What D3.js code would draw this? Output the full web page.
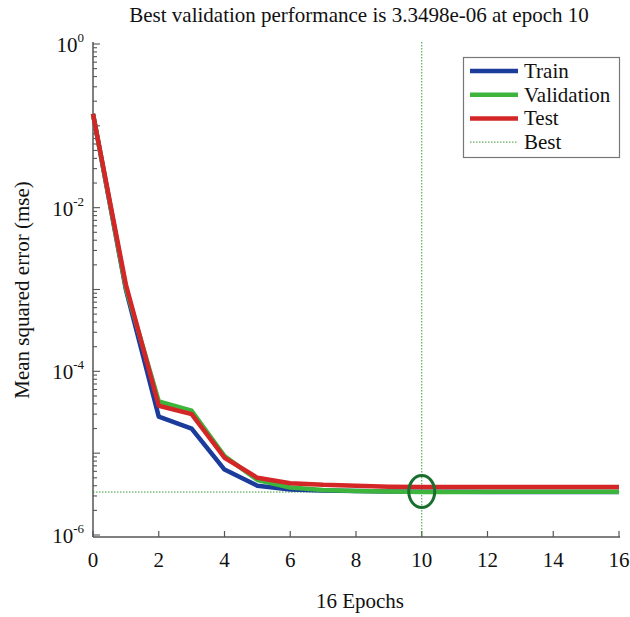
<!DOCTYPE html>
<html><head><meta charset="utf-8">
<script src="https://cdn.jsdelivr.net/npm/d3@7"></script>
<style>body{margin:0;background:#fff}text{font-family:"Liberation Serif","Times New Roman",serif}</style>
</head><body>
<svg id="c" width="630" height="617"></svg>
<script>
const epochs = d3.range(0, 17);
const train = [0.14, 1.0e-3, 2.8e-5, 2.0e-5, 6.3e-6, 4.0e-6, 3.6e-6, 3.5e-6, 3.45e-6, 3.4e-6, 3.38e-6, 3.37e-6, 3.36e-6, 3.36e-6, 3.35e-6, 3.35e-6, 3.35e-6];
const validation = [0.14, 1.05e-3, 4.3e-5, 3.3e-5, 9.2e-6, 4.7e-6, 3.8e-6, 3.55e-6, 3.45e-6, 3.4e-6, 3.3498e-6, 3.36e-6, 3.37e-6, 3.37e-6, 3.38e-6, 3.38e-6, 3.38e-6];
const test = [0.14, 1.15e-3, 3.8e-5, 3.0e-5, 8.8e-6, 5.0e-6, 4.3e-6, 4.1e-6, 4.0e-6, 3.9e-6, 3.85e-6, 3.85e-6, 3.85e-6, 3.85e-6, 3.85e-6, 3.85e-6, 3.85e-6];
const bestEpoch = 10, bestValue = 3.3498e-6;
const xTicks = [0, 2, 4, 6, 8, 10, 12, 14, 16];
const yTickExps = [0, -2, -4, -6];
const seriesNames = ["Train", "Validation", "Test"];
const seriesColors = ["#1c3c9c", "#3db53d", "#d42626"];

const svg = d3.select("#c");
const x = d3.scaleLinear().domain([0, 16]).range([93, 619]);
const y = d3.scaleLog().domain([1e-6, 1]).range([535, 44]);

// axes
const bottomY = 537;
svg.append("line").attr("x1", 93).attr("x2", 620).attr("y1", bottomY).attr("y2", bottomY).attr("stroke", "#555").attr("stroke-width", 1.5);
svg.append("line").attr("x1", 93).attr("x2", 93).attr("y1", 42).attr("y2", bottomY).attr("stroke", "#555").attr("stroke-width", 1.5);
xTicks.forEach(t => {
  svg.append("line").attr("x1", x(t)).attr("x2", x(t)).attr("y1", bottomY).attr("y2", bottomY - 6).attr("stroke", "#555").attr("stroke-width", 1.2);
  svg.append("text").attr("x", x(t)).attr("y", 567).attr("text-anchor", "middle").attr("font-size", 21).attr("fill", "#111").text(t);
});
// y ticks: major and minor
for (let e = -6; e < 0; e++) {
  for (let m = 1; m < 10; m++) {
    const v = m * Math.pow(10, e);
    const major = (m === 1);
    svg.append("line").attr("x1", 93).attr("x2", 93 + (major ? 7 : 4)).attr("y1", y(v)).attr("y2", y(v)).attr("stroke", "#555").attr("stroke-width", 1.1);
  }
}
svg.append("line").attr("x1", 93).attr("x2", 100).attr("y1", y(1)).attr("y2", y(1)).attr("stroke", "#555").attr("stroke-width", 1.1);
yTickExps.forEach(e => {
  const t = svg.append("text").attr("x", 84).attr("y", y(Math.pow(10, e)) + 8).attr("text-anchor", "end").attr("font-size", 21).attr("fill", "#111");
  t.append("tspan").text("10");
  t.append("tspan").attr("dy", -10).attr("font-size", 13).text(e);
});

// best lines
svg.append("line").attr("x1", x(bestEpoch)).attr("x2", x(bestEpoch)).attr("y1", 42).attr("y2", bottomY).attr("stroke", "#3a9a3a").attr("stroke-width", 1).attr("stroke-dasharray", "1.5,1.5");
svg.append("line").attr("x1", 93).attr("x2", 620).attr("y1", y(bestValue)).attr("y2", y(bestValue)).attr("stroke", "#3a9a3a").attr("stroke-width", 1).attr("stroke-dasharray", "1.5,1.5");

// series
const line = d3.line().x((d, i) => x(epochs[i])).y(d => y(d));
const data = [train, validation, test];
[0, 1, 2].forEach(k => {
  svg.append("path").datum(data[k]).attr("d", line).attr("fill", "none").attr("stroke", seriesColors[k]).attr("stroke-width", 4.5).attr("stroke-linejoin", "round");
});

// best circle
svg.append("ellipse").attr("cx", x(bestEpoch)).attr("cy", y(bestValue) - 0.5).attr("rx", 13).attr("ry", 16).attr("fill", "none").attr("stroke", "#1a6e2e").attr("stroke-width", 3);

// legend
svg.append("rect").attr("x", 463.5).attr("y", 57.5).attr("width", 156).attr("height", 100).attr("fill", "#fff").attr("stroke", "#777").attr("stroke-width", 1.2);
const legendItems = seriesNames.concat(["Best"]);
legendItems.forEach((n, i) => {
  const ly = 71 + i * 23.7;
  if (i < 3) {
    svg.append("line").attr("x1", 470).attr("x2", 518).attr("y1", ly).attr("y2", ly).attr("stroke", seriesColors[i]).attr("stroke-width", 4.5);
  } else {
    svg.append("line").attr("x1", 470).attr("x2", 518).attr("y1", ly).attr("y2", ly).attr("stroke", "#3a9a3a").attr("stroke-width", 1).attr("stroke-dasharray", "1.5,1.5");
  }
  svg.append("text").attr("x", 524).attr("y", ly + 7).attr("font-size", 21).attr("fill", "#111").text(n);
});

// title and labels
svg.append("text").attr("x", 359).attr("y", 22).attr("text-anchor", "middle").attr("font-size", 21).attr("fill", "#111").text("Best validation performance is 3.3498e-06 at epoch 10");
svg.append("text").attr("x", 360).attr("y", 608).attr("text-anchor", "middle").attr("font-size", 21).attr("fill", "#111").text("16 Epochs");
svg.append("text").attr("transform", "translate(29,290) rotate(-90)").attr("text-anchor", "middle").attr("font-size", 21).attr("fill", "#111").text("Mean squared error (mse)");
</script>
</body></html>
